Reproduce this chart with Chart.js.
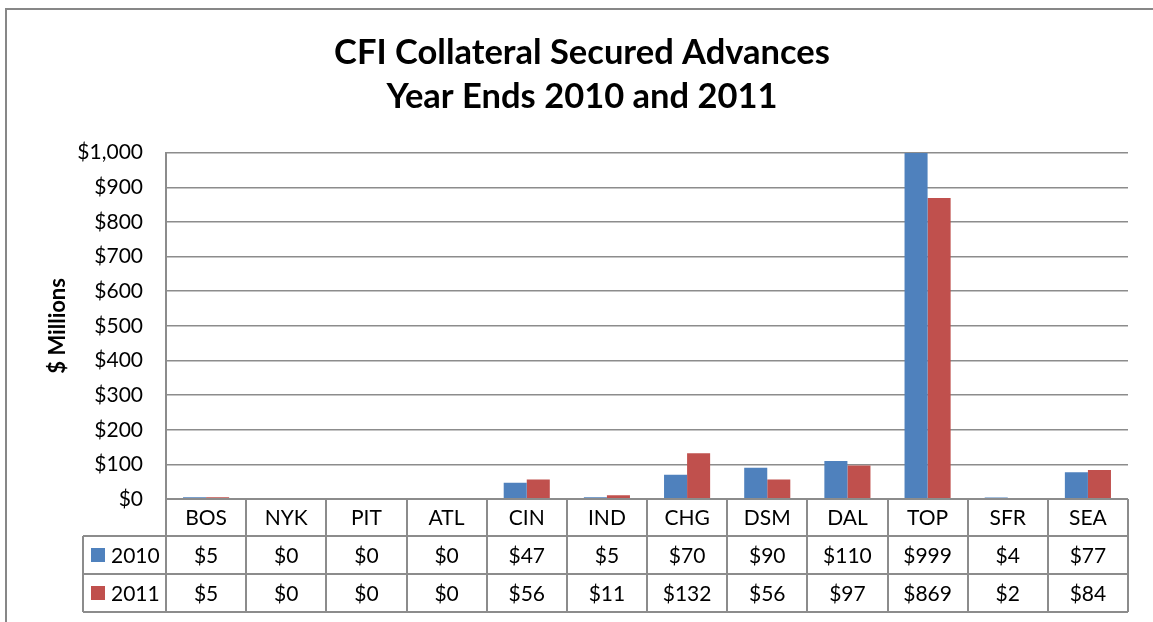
<!DOCTYPE html>
<html>
<head>
<meta charset="utf-8">
<title>CFI Collateral Secured Advances</title>
<script src="https://cdn.jsdelivr.net/npm/chart.js@4.4.1/dist/chart.umd.min.js"></script>
<style>
  html, body { margin: 0; padding: 0; background: #fff; }
  #wrap { width: 1153px; height: 622px; }
</style>
</head>
<body>
<div id="wrap"><canvas id="advChart" width="1153" height="622"></canvas></div>
<script>
// chart data
const categories = ['BOS', 'NYK', 'PIT', 'ATL', 'CIN', 'IND', 'CHG', 'DSM', 'DAL', 'TOP', 'SFR', 'SEA'];
const seriesNames = ['2010', '2011'];
const values2010 = [5, 0, 0, 0, 47, 5, 70, 90, 110, 999, 4, 77];
const values2011 = [5, 0, 0, 0, 56, 11, 132, 56, 97, 869, 2, 84];
const yMin = 0;
const yMax = 1000;
const yStep = 100;

const blue = '#4F81BD';
const red = '#C0504D';
const lineGray = '#8c8c8c';

Chart.defaults.font.family = 'Lato, "Open Sans", sans-serif';
Chart.defaults.color = '#000';

const money = v => '$' + Number(v).toLocaleString('en-US');

// draws the frame and the data table under the plot
const tablePlugin = {
    id: 'dataTable',
    beforeDraw(chart) {
        const ctx = chart.ctx;
        ctx.save();
        ctx.fillStyle = '#fff';
        ctx.fillRect(0, 0, chart.width, chart.height);
        ctx.strokeStyle = '#878787';
        ctx.lineWidth = 2;
        ctx.strokeRect(6, 9, chart.width + 50, chart.height + 50);
        ctx.restore();
    },
    afterDraw(chart) {
        const ctx = chart.ctx;
        const xs = chart.scales.x;
        const area = chart.chartArea;
        const rowH = 38;
        const rows = [area.bottom, area.bottom + 37, area.bottom + 37 + rowH, area.bottom + 37 + 2 * rowH];
        const legendLeft = area.left - 83;
        const colors = [blue, red];
        const series = [values2010, values2011];

        ctx.save();
        ctx.strokeStyle = lineGray;
        ctx.lineWidth = 2;
        ctx.beginPath();
        ctx.moveTo(area.left, rows[0]);
        ctx.lineTo(area.right, rows[0]);
        for (let r = 1; r < rows.length; r++) {
            ctx.moveTo(legendLeft, rows[r]);
            ctx.lineTo(area.right, rows[r]);
        }
        for (let i = 0; i <= categories.length; i++) {
            const px = Math.round(xs.getPixelForValue(i - 0.5));
            ctx.moveTo(px, rows[0]);
            ctx.lineTo(px, rows[3]);
        }
        ctx.moveTo(legendLeft, rows[1]);
        ctx.lineTo(legendLeft, rows[3]);
        ctx.stroke();

        ctx.fillStyle = '#000';
        ctx.font = '21px Lato, "Open Sans", sans-serif';
        ctx.textAlign = 'center';
        ctx.textBaseline = 'middle';
        categories.forEach((c, i) => {
            const cx = xs.getPixelForValue(i);
            ctx.fillText(c, cx, (rows[0] + rows[1]) / 2 + 1);
            series.forEach((vals, s) => {
                ctx.fillText(money(vals[i]), cx, (rows[s + 1] + rows[s + 2]) / 2 + 1);
            });
        });

        seriesNames.forEach((name, s) => {
            const cy = (rows[s + 1] + rows[s + 2]) / 2;
            ctx.fillStyle = colors[s];
            ctx.fillRect(legendLeft + 8, cy - 7, 14, 14);
            ctx.fillStyle = '#000';
            ctx.textAlign = 'left';
            ctx.fillText(name, legendLeft + 28, cy + 1);
        });
        ctx.restore();
    }
};

const chart = new Chart(document.getElementById('advChart'), {
    type: 'bar',
    data: {
        labels: categories,
        datasets: [
            { label: seriesNames[0], data: values2010, backgroundColor: blue },
            { label: seriesNames[1], data: values2011, backgroundColor: red }
        ]
    },
    options: {
        responsive: false,
        animation: false,
        categoryPercentage: 0.575,
        barPercentage: 1,
        layout: { padding: { left: 36, right: 25, top: 0, bottom: 123 } },
        plugins: {
            legend: { display: false },
            tooltip: { enabled: false },
            title: {
                display: true,
                text: ['CFI Collateral Secured Advances', 'Year Ends 2010 and 2011'],
                font: { size: 34.5, weight: 'bold', lineHeight: 1.3 },
                color: '#000',
                padding: { top: 30, bottom: 33 }
            }
        },
        scales: {
            x: {
                display: false
            },
            y: {
                min: yMin,
                max: yMax,
                ticks: {
                    stepSize: yStep,
                    padding: 23,
                    font: { size: 21 },
                    color: '#000',
                    callback: v => money(v)
                },
                grid: { color: lineGray, lineWidth: 1.5, drawTicks: false },
                border: { display: true, color: lineGray, width: 2 },
                title: {
                    display: true,
                    text: '$ Millions',
                    font: { size: 22, weight: 'bold' },
                    color: '#000',
                    padding: { top: 9, bottom: 0 }
                },
                afterFit(scale) { scale.width = 130; }
            }
        }
    },
    plugins: [tablePlugin]
});
</script>
</body>
</html>
